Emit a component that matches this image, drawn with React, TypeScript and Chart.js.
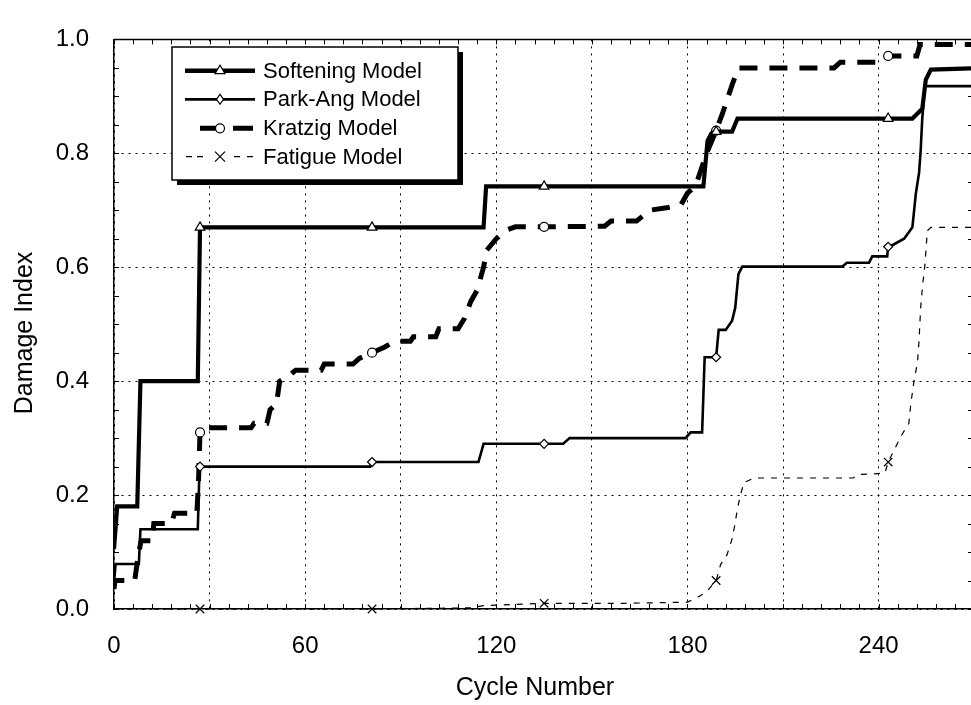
import React, { useEffect, useRef } from 'react';
import { Chart, registerables } from 'chart.js';

Chart.register(...registerables);

// ---- data ----
const xLabelTicks = [0, 60, 120, 180, 240];
const yLabelTicks = [0, 0.2, 0.4, 0.6, 0.8, 1.0];
const markerCycles = [27, 81, 135, 189, 243];
const legendLabels = ['Softening Model', 'Park-Ang Model', 'Kratzig Model', 'Fatigue Model'];
const xTitle = 'Cycle Number';
const yTitle = 'Damage Index';

const softeningX = [0, 1, 7.3, 8.3, 26.3, 27, 81, 116, 116.8, 135, 185, 186.3, 187.5, 189, 194, 195.7, 243, 250.6, 252.2, 253.7, 254.8, 256.4, 269];
const softeningY = [0.105, 0.18, 0.18, 0.40, 0.40, 0.67, 0.67, 0.67, 0.742, 0.742, 0.742, 0.822, 0.835, 0.838, 0.838, 0.861, 0.861, 0.861, 0.87, 0.878, 0.929, 0.947, 0.949];

const parkAngX = [0, 0.5, 7.8, 8.3, 26.3, 26.7, 27, 80.4, 81, 114.4, 116, 135, 141, 143, 179.4, 181, 184.6, 185.4, 188, 189, 189.8, 192, 194, 195, 196, 197.2, 228.6, 230, 237, 238, 242.7, 243, 244.7, 248, 250.6, 251.7, 252.7, 253.2, 253.7, 254.5, 269];
const parkAngY = [0.045, 0.079, 0.079, 0.14, 0.14, 0.22, 0.25, 0.25, 0.258, 0.258, 0.29, 0.29, 0.29, 0.30, 0.30, 0.31, 0.31, 0.442, 0.442, 0.442, 0.49, 0.49, 0.506, 0.529, 0.588, 0.601, 0.601, 0.608, 0.608, 0.619, 0.619, 0.636, 0.64, 0.65, 0.67, 0.73, 0.766, 0.805, 0.861, 0.918, 0.918];

const kratzigX = [0, 0.3, 6.5, 7.5, 8.5, 12, 12.5, 18, 19, 26, 26.5, 27, 28, 43, 44, 48, 49, 51, 52, 55, 57, 65, 66, 75, 77, 81, 85, 88, 93, 94, 101, 102, 108, 110, 112, 114, 116, 117, 120, 123, 126, 135, 154, 156, 164, 166, 168, 174, 178, 180, 182, 183, 186, 189, 191, 194, 196, 226, 228, 242, 243, 252, 253, 269];
const kratzigY = [0.035, 0.05, 0.05, 0.09, 0.12, 0.12, 0.15, 0.15, 0.168, 0.168, 0.22, 0.31, 0.318, 0.318, 0.326, 0.326, 0.35, 0.36, 0.40, 0.41, 0.419, 0.419, 0.43, 0.43, 0.44, 0.45, 0.46, 0.47, 0.47, 0.478, 0.478, 0.492, 0.492, 0.51, 0.54, 0.56, 0.60, 0.63, 0.65, 0.665, 0.671, 0.671, 0.672, 0.681, 0.681, 0.69, 0.70, 0.705, 0.71, 0.73, 0.74, 0.75, 0.80, 0.84, 0.87, 0.92, 0.95, 0.95, 0.96, 0.96, 0.971, 0.971, 0.991, 0.991];

const fatigueX = [0, 27, 81, 112, 116, 125, 135, 160, 180, 183, 186, 189, 190.4, 192.4, 194, 195, 195.6, 196.6, 197.7, 201, 232, 233.5, 238, 242, 243, 247, 249.5, 250.1, 251.1, 252.2, 252.7, 253.2, 253.8, 254.5, 255.3, 256.4, 269];
const fatigueY = [0, 0, 0, 0.002, 0.006, 0.008, 0.01, 0.01, 0.012, 0.02, 0.03, 0.05, 0.078, 0.095, 0.123, 0.151, 0.174, 0.199, 0.222, 0.23, 0.23, 0.236, 0.237, 0.239, 0.258, 0.303, 0.326, 0.36, 0.40, 0.433, 0.472, 0.529, 0.568, 0.602, 0.664, 0.67, 0.67];

const X_MAX = 269;
const FONT = '"Liberation Sans", Arial, Helvetica, sans-serif';

const toPoints = (xs: number[], ys: number[]) => xs.map((x, i) => ({ x, y: ys[i] }));

function drawMarker(ctx: CanvasRenderingContext2D, style: string, x: number, y: number) {
  ctx.save();
  ctx.lineWidth = 1.2;
  ctx.strokeStyle = '#000';
  ctx.fillStyle = '#fff';
  ctx.setLineDash([]);
  ctx.beginPath();
  if (style === 'triangle') {
    ctx.moveTo(x, y - 5.5);
    ctx.lineTo(x + 5, y + 3);
    ctx.lineTo(x - 5, y + 3);
    ctx.closePath();
    ctx.fill();
    ctx.stroke();
  } else if (style === 'diamond') {
    ctx.moveTo(x, y - 5);
    ctx.lineTo(x + 3.5, y);
    ctx.lineTo(x, y + 5);
    ctx.lineTo(x - 3.5, y);
    ctx.closePath();
    ctx.fill();
    ctx.stroke();
  } else if (style === 'circle') {
    ctx.arc(x, y, 4.5, 0, Math.PI * 2);
    ctx.fill();
    ctx.stroke();
  } else {
    ctx.moveTo(x - 5, y - 5);
    ctx.lineTo(x + 5, y + 5);
    ctx.moveTo(x + 5, y - 5);
    ctx.lineTo(x - 5, y + 5);
    ctx.stroke();
  }
  ctx.restore();
}

const framePlugin = {
  id: 'frameAndLegend',
  afterDraw(chart: any) {
    const ctx: CanvasRenderingContext2D = chart.ctx;
    const { left, right, top, bottom } = chart.chartArea;
    const xs = chart.scales.x;
    const ys = chart.scales.y;
    ctx.save();
    ctx.setLineDash([]);
    ctx.strokeStyle = '#000';
    // top border
    ctx.lineWidth = 1.5;
    ctx.beginPath();
    ctx.moveTo(left, top);
    ctx.lineTo(right, top);
    ctx.stroke();
    // minor ticks
    ctx.lineWidth = 1;
    ctx.beginPath();
    for (let v = 0; v <= X_MAX; v += 6) {
      const px = Math.round(xs.getPixelForValue(v)) + 0.5;
      ctx.moveTo(px, bottom);
      ctx.lineTo(px, bottom - 5);
      ctx.moveTo(px, top);
      ctx.lineTo(px, top + 5);
    }
    for (let k = 0; k <= 20; k++) {
      const py = Math.round(ys.getPixelForValue(k * 0.05)) + 0.5;
      ctx.moveTo(left, py);
      ctx.lineTo(left + 5, py);
      ctx.moveTo(right, py);
      ctx.lineTo(right - 3, py);
    }
    ctx.stroke();

    // axis titles
    ctx.fillStyle = '#000';
    ctx.font = `25px ${FONT}`;
    ctx.textAlign = 'center';
    ctx.textBaseline = 'middle';
    ctx.fillText(xTitle, 535, 688);
    ctx.save();
    ctx.translate(25, 333);
    ctx.rotate(-Math.PI / 2);
    ctx.fillText(yTitle, 0, 0);
    ctx.restore();

    // legend box with shadow
    const bx = 172, by = 47, bw = 286, bh = 133;
    ctx.fillStyle = '#000';
    ctx.fillRect(bx + 5, by + 5, bw, bh);
    ctx.fillStyle = '#fff';
    ctx.fillRect(bx, by, bw, bh);
    ctx.lineWidth = 1.5;
    ctx.strokeRect(bx, by, bw, bh);

    const rows = [70.7, 99.3, 128.3, 156.7];
    const x0 = 185, x1 = 255, xm = 220;
    // Softening
    ctx.lineWidth = 4.5;
    ctx.beginPath();
    ctx.moveTo(x0, rows[0]);
    ctx.lineTo(x1, rows[0]);
    ctx.stroke();
    drawMarker(ctx, 'triangle', xm, rows[0]);
    // Park-Ang
    ctx.lineWidth = 2.8;
    ctx.beginPath();
    ctx.moveTo(x0, rows[1]);
    ctx.lineTo(x1, rows[1]);
    ctx.stroke();
    drawMarker(ctx, 'diamond', xm, rows[1]);
    // Kratzig
    ctx.lineWidth = 5;
    ctx.beginPath();
    ctx.moveTo(200, rows[2]);
    ctx.lineTo(222, rows[2]);
    ctx.moveTo(233, rows[2]);
    ctx.lineTo(253, rows[2]);
    ctx.stroke();
    drawMarker(ctx, 'circle', xm, rows[2]);
    // Fatigue
    ctx.lineWidth = 1.2;
    ctx.beginPath();
    [[186, 192], [197, 203], [234, 240], [247, 253]].forEach(([a, b]) => {
      ctx.moveTo(a, rows[3]);
      ctx.lineTo(b, rows[3]);
    });
    ctx.stroke();
    drawMarker(ctx, 'cross', xm, rows[3]);

    ctx.fillStyle = '#000';
    ctx.font = `22px ${FONT}`;
    ctx.textAlign = 'left';
    ctx.textBaseline = 'middle';
    legendLabels.forEach((t, i) => ctx.fillText(t, 263, rows[i] + 1));
    ctx.restore();
  },
};

const markerRadius = (r: number) => (c: any) =>
  c.raw && markerCycles.includes(c.raw.x) ? r : 0;

export default function App() {
  const ref = useRef<HTMLCanvasElement>(null);
  useEffect(() => {
    if (!ref.current) return;
    const dotted = { color: '#000', lineWidth: 1, drawTicks: false };
    const chart = new Chart(ref.current, {
      type: 'line',
      data: {
        datasets: [
          {
            label: legendLabels[0],
            data: toPoints(softeningX, softeningY),
            borderColor: '#000',
            borderWidth: 4.2,
            pointStyle: 'triangle',
            pointRadius: markerRadius(5.5),
            pointBackgroundColor: '#fff',
            pointBorderColor: '#000',
            pointBorderWidth: 1.2,
            tension: 0,
          },
          {
            label: legendLabels[1],
            data: toPoints(parkAngX, parkAngY),
            borderColor: '#000',
            borderWidth: 2.6,
            pointStyle: 'rectRot',
            pointRadius: markerRadius(4.5),
            pointBackgroundColor: '#fff',
            pointBorderColor: '#000',
            pointBorderWidth: 1.2,
            tension: 0,
          },
          {
            label: legendLabels[2],
            data: toPoints(kratzigX, kratzigY),
            borderColor: '#000',
            borderWidth: 5,
            borderDash: [18, 12],
            pointStyle: 'circle',
            pointRadius: markerRadius(4.5),
            pointBackgroundColor: '#fff',
            pointBorderColor: '#000',
            pointBorderWidth: 1.2,
            tension: 0,
          },
          {
            label: legendLabels[3],
            data: toPoints(fatigueX, fatigueY),
            borderColor: '#000',
            borderWidth: 1.2,
            borderDash: [6, 7],
            pointStyle: 'crossRot',
            pointRadius: markerRadius(6),
            pointBackgroundColor: '#fff',
            pointBorderColor: '#000',
            pointBorderWidth: 1.2,
            tension: 0,
            clip: false,
          },
        ],
      },
      options: {
        animation: false,
        responsive: false,
        devicePixelRatio: 1,
        layout: { padding: { top: 18, right: 0, left: 0, bottom: 0 } },
        plugins: { legend: { display: false }, tooltip: { enabled: false } },
        scales: {
          x: {
            type: 'linear',
            min: 0,
            max: X_MAX,
            afterFit: (s: any) => { s.height = 96; },
            ticks: {
              stepSize: 30,
              includeBounds: false,
              autoSkip: false,
              maxRotation: 0,
              padding: 23,
              color: '#000',
              font: { family: FONT, size: 24 },
              callback: (v: any) => (xLabelTicks.includes(Number(v)) ? String(v) : ''),
            },
            grid: { ...dotted } as any,
            border: { display: true, color: '#000', width: 1.5, dash: [2, 5] } as any,
          },
          y: {
            type: 'linear',
            min: 0,
            max: 1,
            afterFit: (s: any) => { s.width = 114; },
            ticks: {
              stepSize: 0.2,
              padding: 25,
              color: '#000',
              font: { family: FONT, size: 24 },
              callback: (v: any) => {
                const n = Number(v);
                return yLabelTicks.some((t) => Math.abs(t - n) < 1e-6) ? n.toFixed(1) : '';
              },
            },
            grid: { ...dotted } as any,
            border: { display: true, color: '#000', width: 1.5, dash: [2, 5] } as any,
          },
        },
      } as any,
      plugins: [framePlugin],
    });
    return () => chart.destroy();
  }, []);
  return (
    <div style={{ position: 'absolute', left: 0, top: 0, width: 971, height: 705, background: '#fff' }}>
      <canvas ref={ref} width={971} height={705} style={{ display: 'block' }} />
    </div>
  );
}
